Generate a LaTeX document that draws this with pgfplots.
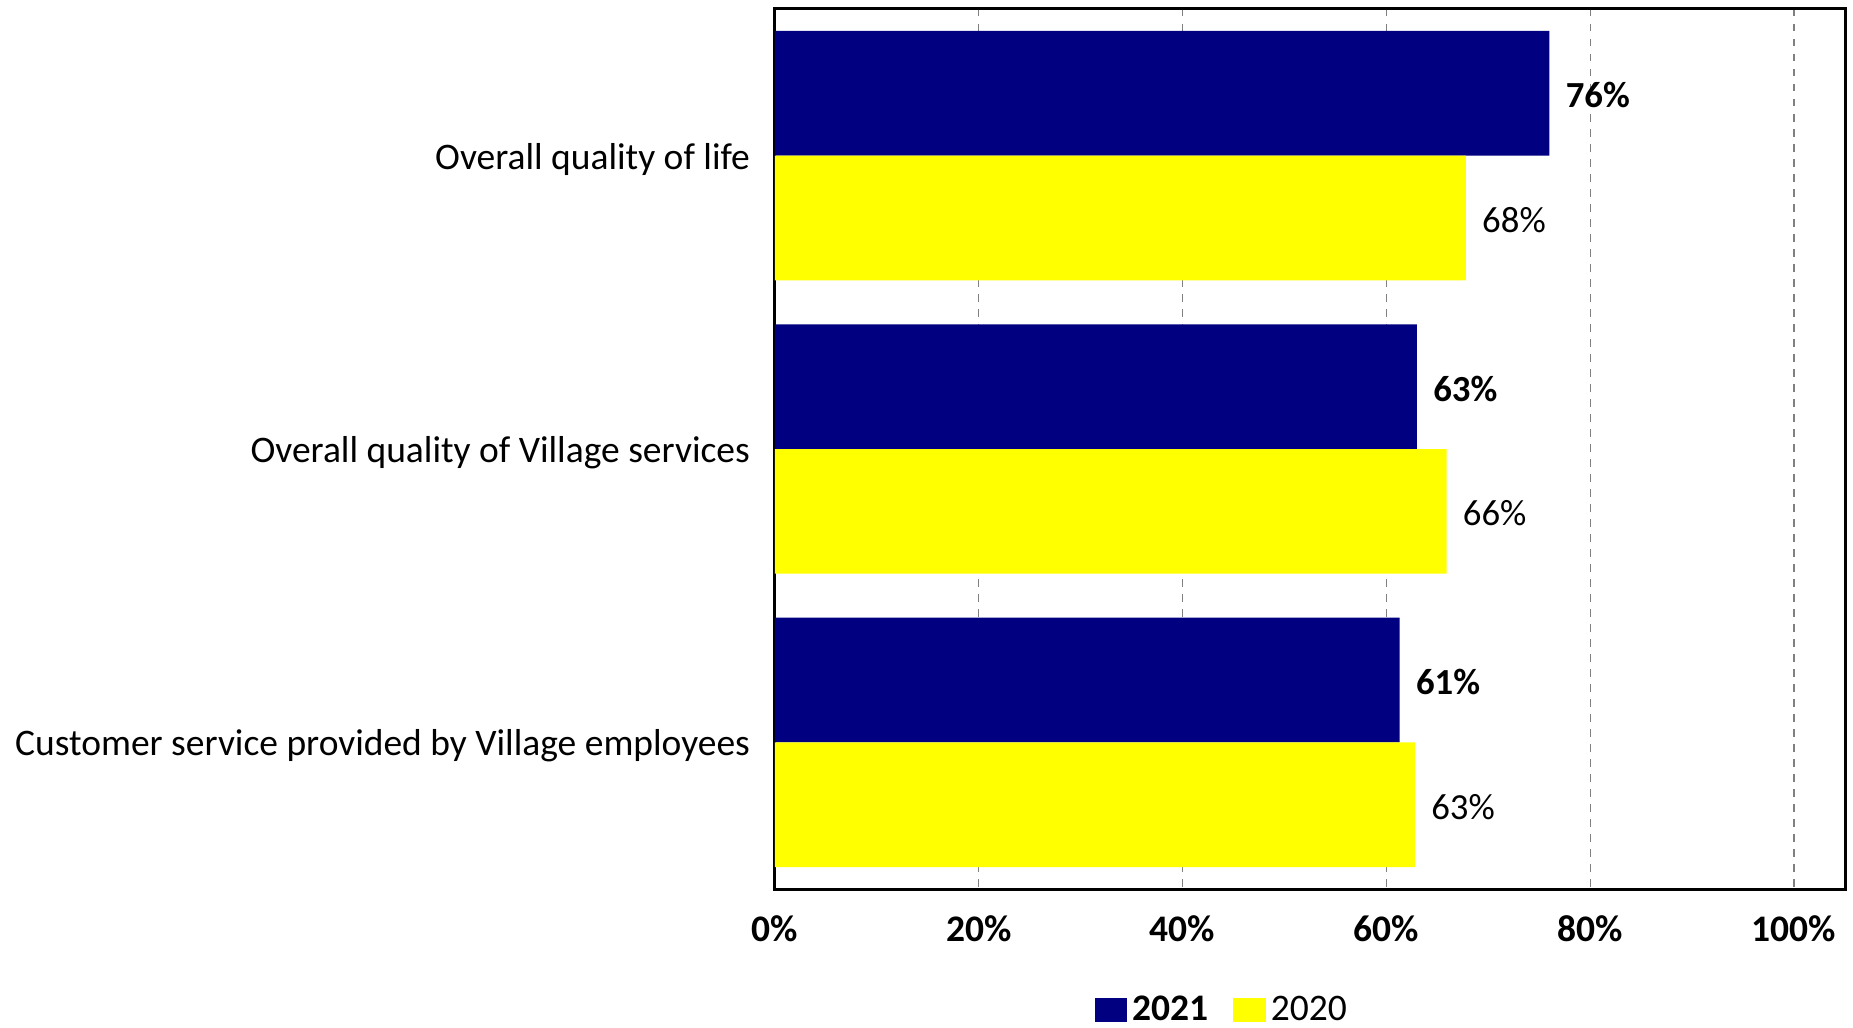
\documentclass[border=0pt]{standalone}
\usepackage{pgfplots}
\pgfplotsset{compat=1.18}
\usepackage{fontspec}
\setmainfont{Carlito}
\definecolor{navyb}{RGB}{0,0,128}
\definecolor{yel}{RGB}{255,255,0}
\begin{document}
\begin{tikzpicture}
\useasboundingbox (-310pt,-55.6pt) rectangle (431.2pt,355.6pt);
\begin{axis}[
  at={(0,0)}, anchor=south west,
  scale only axis,
  width=428pt, height=352pt,
  xmin=0, xmax=105,
  ymin=-0.5, ymax=2.5,
  y dir=reverse,
  xbar,
  bar width=0.425,
  axis line style={line width=1.2pt},
  xtick={0,20,40,60,80,100},
  xticklabels={0\%,20\%,40\%,60\%,80\%,100\%},
  xticklabel style={font=\fontsize{15}{18}\selectfont\bfseries, yshift=-7pt},
  ytick={0,1,2},
  yticklabels={Overall quality of life,Overall quality of Village services,Customer service provided by Village employees},
  yticklabel style={font=\fontsize{15}{18}\selectfont, xshift=-6.5pt, yshift=-1.4pt},
  major tick length=0pt,
  xmajorgrids,
  major grid style={dashed, gray, line width=0.5pt},
  /pgf/number format/assume math mode=true,
  nodes near coords,
  point meta=explicit symbolic,
  every node near coord/.append style={anchor=west, xshift=3pt, yshift=-0.8pt, font=\fontsize{14.7}{17}\selectfont},
  legend style={at={(0.419,-0.138)}, anchor=center, draw=none, legend columns=2, inner sep=0pt,
    font=\fontsize{15}{18}\selectfont, /tikz/every even column/.append style={column sep=8pt}},
  legend image code/.code={\fill[#1] (0pt,-4.5pt) rectangle (13pt,5pt);},
  clip=false,
]
\addplot[fill=navyb, draw=none, bar shift=-0.2125,
  every node near coord/.append style={font=\fontsize{14.7}{17}\selectfont\bfseries}]
  table[meta=lab] {
x y lab
76 0 76\%
63 1 63\%
61.3 2 61\%
};
\addplot[fill=yel, draw=none, bar shift=0.2125]
  table[meta=lab] {
x y lab
67.8 0 68\%
65.9 1 66\%
62.8 2 63\%
};
\legend{\textbf{2021},2020}
\end{axis}
\end{tikzpicture}
\end{document}
